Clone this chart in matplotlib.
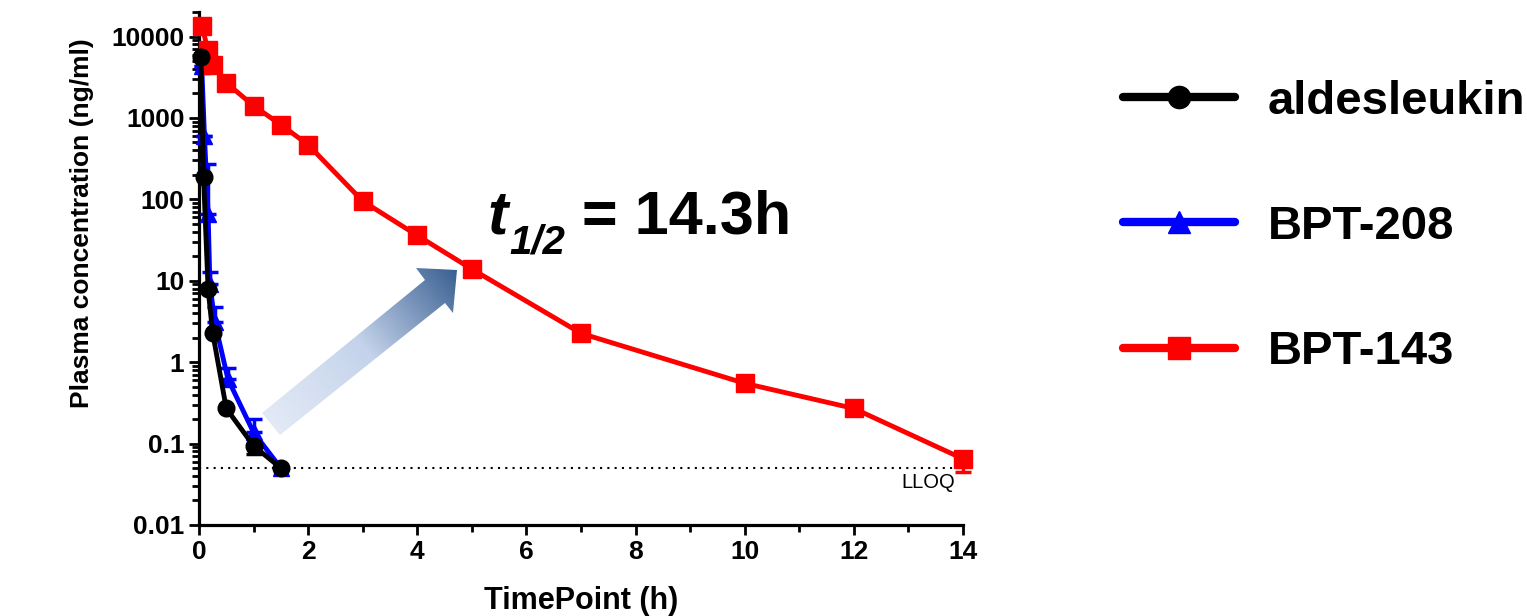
import numpy as np
import matplotlib
matplotlib.use("Agg")
import matplotlib.pyplot as plt
from matplotlib.lines import Line2D
from matplotlib.patches import Polygon
from matplotlib.colors import LinearSegmentedColormap
from matplotlib.ticker import LogLocator, NullFormatter, MultipleLocator

plt.rcParams['font.family'] = ['Liberation Sans', 'DejaVu Sans']

# ---- data ----
series_names = ["aldesleukin", "BPT-208", "BPT-143"]

ald_t = [0.033, 0.083, 0.167, 0.25, 0.5, 1.0, 1.5]
ald_c = [5600, 190, 7.9, 2.3, 0.27, 0.094, 0.05]
ald_err_low = [0, 0, 0, 0, 0, 0.019, 0]

bpt208_t = [0.05, 0.1, 0.167, 0.2, 0.29, 0.53, 1.0, 1.5]
bpt208_c = [4300, 600, 66, 9.0, 3.1, 0.62, 0.137, 0.05]
bpt208_err_up = [0, 0, 204, 3.7, 1.6, 0.24, 0.063, 0]

bpt143_t = [0.05, 0.167, 0.25, 0.5, 1, 1.5, 2, 3, 4, 5, 7, 10, 12, 14]
bpt143_c = [13500, 6800, 4500, 2700, 1410, 825, 468, 95, 36, 13.9, 2.26, 0.55, 0.27, 0.065]
bpt143_err_low = [0, 0, 0, 0, 0, 0, 0, 0, 0, 0, 0, 0, 0, 0.02]

lloq = 0.05
y_ticks = [0.01, 0.1, 1, 10, 100, 1000, 10000]
y_labels = ["0.01", "0.1", "1", "10", "100", "1000", "10000"]
x_ticks = [0, 2, 4, 6, 8, 10, 12, 14]

W, H = 1527, 616
fig = plt.figure(figsize=(W / 100, H / 100), dpi=100)
ax = fig.add_axes([199 / W, 1 - 525 / H, (963 - 199) / W, (525 - 12) / H])

ax.set_yscale("log")
ax.set_xlim(0, 14)
ax.set_ylim(0.01, 20000)

# LLOQ line
ax.axhline(lloq, color="black", lw=1.5, ls=(0, (1, 2.5)), zorder=1)
ax.text(13.85, lloq * 0.87, "LLOQ", ha="right", va="top", fontsize=14.5)

common = dict(lw=3.5, capsize=6, capthick=2.5, elinewidth=2.5, clip_on=False)
e1 = ax.errorbar(bpt208_t, bpt208_c, yerr=[np.zeros(len(bpt208_t)), bpt208_err_up],
                 color="#0000ff", marker="^", markersize=11, zorder=3, **common)
e2 = ax.errorbar(bpt143_t, bpt143_c, yerr=[bpt143_err_low, np.zeros(len(bpt143_t))],
                 color="#ff0000", marker="s", markersize=13, zorder=4, **common)
e3 = ax.errorbar(ald_t, ald_c, yerr=[ald_err_low, np.zeros(len(ald_t))],
                 color="black", marker="o", markersize=12, zorder=5, **common)
for e in (e1, e2, e3):
    for part in e.lines[1] + e.lines[2]:
        part.set_clip_on(False)

for s in ["top", "right"]:
    ax.spines[s].set_visible(False)
for s in ["left", "bottom"]:
    ax.spines[s].set_linewidth(2.3)

ax.set_yticks(y_ticks)
ax.set_yticklabels(y_labels)
ax.yaxis.set_minor_locator(LogLocator(base=10, subs=np.arange(2, 10), numticks=100))
ax.yaxis.set_minor_formatter(NullFormatter())
ax.set_xticks(x_ticks)
ax.xaxis.set_minor_locator(MultipleLocator(1))
ax.tick_params(which="major", length=7, width=2, labelsize=19, direction="out")
ax.tick_params(which="minor", length=5, width=2, direction="out")
for lab in ax.get_xticklabels() + ax.get_yticklabels():
    lab.set_fontweight("bold")

ax.set_xlabel("TimePoint (h)", fontsize=22, fontweight="bold", labelpad=16)
ax.set_ylabel("Plasma concentration (ng/ml)", fontsize=19, fontweight="bold")
ax.yaxis.set_label_coords(-0.137, (525 - 223) / 513)

# legend
handles = [
    Line2D([], [], color="black", lw=6, marker="o", markersize=16, solid_capstyle="round"),
    Line2D([], [], color="#0000ff", lw=6, marker="^", markersize=16, solid_capstyle="round"),
    Line2D([], [], color="#ff0000", lw=6, marker="s", markersize=16, solid_capstyle="round"),
]
fig.legend(handles, series_names, loc="center left", bbox_to_anchor=(1123 / W, 1 - 227 / H),
           frameon=False, prop={"weight": "bold", "size": 34},
           handlelength=2.38, handletextpad=0.68, labelspacing=1.72,
           borderpad=0, borderaxespad=0)

# half-life annotation
fig.text(487 / W, 1 - 234 / H, "t", fontsize=44, style="italic", fontweight="bold", va="baseline")
fig.text(509 / W, 1 - 253 / H, "1/2", fontsize=29, style="italic", fontweight="bold", va="baseline")
fig.text(582 / W, 1 - 234 / H, "= 14.3h", fontsize=44, fontweight="bold", va="baseline")

# gradient arrow overlay (pixel coordinates)
ov = fig.add_axes([0, 0, 1, 1], zorder=2)
ov.set_xlim(0, W)
ov.set_ylim(H, 0)
ov.axis("off")
ov.patch.set_alpha(0)
verts = [(262, 413), (425, 280), (416, 268), (457, 270), (453, 313), (445, 303), (280, 435)]
poly = Polygon(verts, closed=True, facecolor="none", edgecolor="none")
ov.add_patch(poly)
tail = np.array([271.0, 424.0])
tip = np.array([457.0, 270.0])
u = (tip - tail) / np.linalg.norm(tip - tail)
xs = np.linspace(255, 465, 300)
ys = np.linspace(260, 440, 300)
X, Y = np.meshgrid(xs, ys)
G = ((X - tail[0]) * u[0] + (Y - tail[1]) * u[1]) / np.linalg.norm(tip - tail)
cmap = LinearSegmentedColormap.from_list("arr", ["#e3eaf6", "#c4d3eb", "#3a6092"])
im = ov.imshow(G, extent=(255, 465, 440, 260), cmap=cmap, vmin=0, vmax=1,
               origin="upper", interpolation="bilinear")
im.set_clip_path(poly)
ov.set_xlim(0, W)
ov.set_ylim(H, 0)

fig.savefig("out.png", dpi=100)
